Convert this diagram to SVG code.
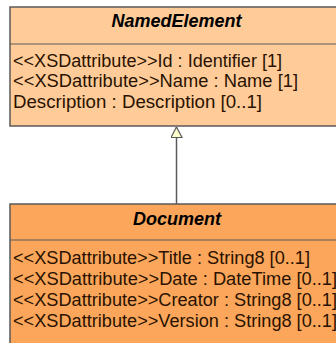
<svg xmlns="http://www.w3.org/2000/svg" width="336" height="343" viewBox="0 0 336 343">
  <style>
    .box { stroke: #5a5a5a; stroke-width: 1.5; }
    .sep { stroke: #5a5a5a; stroke-width: 1.2; fill: none; }
    .title { font-family: "Liberation Sans", Arial, sans-serif; font-size: 17.5px; font-weight: bold; font-style: italic; fill: #000; text-anchor: middle; }
    .attr { font-family: "Liberation Sans", Arial, sans-serif; font-size: 17.5px; fill: #2a1200; }
    .conn { stroke: #5a5a5a; stroke-width: 1.5; fill: none; }
  </style>
  <defs>
    <!-- hollow triangle for generalization, drawn along +x with tip at the line end -->
    <marker id="generalization" viewBox="0 0 12 12" refX="11.5" refY="6" markerWidth="12" markerHeight="12" markerUnits="userSpaceOnUse" orient="auto">
      <path d="M1,0.5 L11.5,6 L1,11.5 Z" fill="#ffffcc" stroke="#5a5a5a" stroke-width="1.2"/>
    </marker>
  </defs>
  <rect width="336" height="343" fill="#ffffff"/>

  <g id="connectors">
    <path class="conn" d="M176.5,204 L176.5,127" marker-end="url(#generalization)"/>
  </g>

  <g id="NamedElement">
    <rect class="box" x="10" y="7" width="340" height="119" fill="#ffcc99"/>
    <line class="sep" x1="10" y1="44" x2="336" y2="44"/>
    <text class="title" x="176.5" y="27" textLength="130" lengthAdjust="spacingAndGlyphs">NamedElement</text>
    <text class="attr" x="13" y="66.5" textLength="269" lengthAdjust="spacingAndGlyphs">&lt;&lt;XSDattribute&gt;&gt;Id : Identifier [1]</text>
    <text class="attr" x="13" y="87" textLength="285" lengthAdjust="spacingAndGlyphs">&lt;&lt;XSDattribute&gt;&gt;Name : Name [1]</text>
    <text class="attr" x="13" y="107.5" textLength="249" lengthAdjust="spacingAndGlyphs">Description : Description [0..1]</text>
  </g>

  <g id="Document">
    <rect class="box" x="10" y="204" width="340" height="150" fill="#fba65a"/>
    <line class="sep" x1="10" y1="240" x2="336" y2="240"/>
    <text class="title" x="177" y="225" textLength="88" lengthAdjust="spacingAndGlyphs">Document</text>
    <text class="attr" x="13" y="263.5" textLength="297" lengthAdjust="spacingAndGlyphs">&lt;&lt;XSDattribute&gt;&gt;Title : String8 [0..1]</text>
    <text class="attr" x="13" y="284.5" textLength="324" lengthAdjust="spacingAndGlyphs">&lt;&lt;XSDattribute&gt;&gt;Date : DateTime [0..1]</text>
    <text class="attr" x="13" y="305.5" textLength="324" lengthAdjust="spacingAndGlyphs">&lt;&lt;XSDattribute&gt;&gt;Creator : String8 [0..1]</text>
    <text class="attr" x="13" y="326.5" textLength="324" lengthAdjust="spacingAndGlyphs">&lt;&lt;XSDattribute&gt;&gt;Version : String8 [0..1]</text>
  </g>
</svg>
